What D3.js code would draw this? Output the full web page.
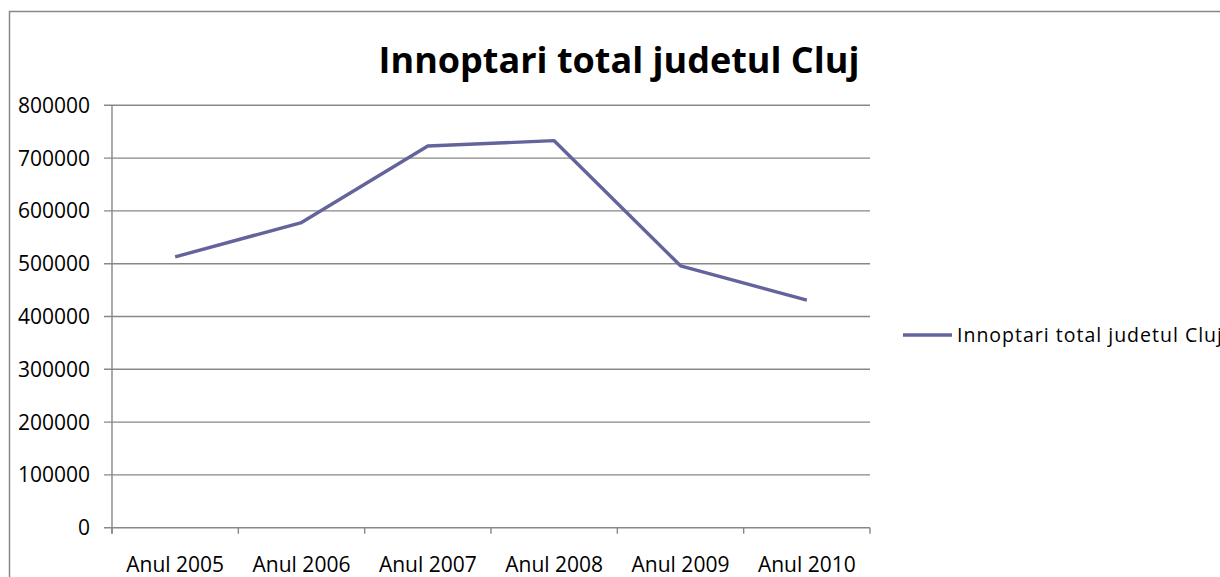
<!DOCTYPE html>
<html>
<head>
<meta charset="utf-8">
<script src="https://cdn.jsdelivr.net/npm/d3@7"></script>
<style>
  body { margin: 0; background: #fff; }
  svg { display: block; font-family: "Open Sans", sans-serif; }
</style>
</head>
<body>
<svg id="chart" width="1220" height="577"></svg>
<script>
// data
var categories = ["Anul 2005", "Anul 2006", "Anul 2007", "Anul 2008", "Anul 2009", "Anul 2010"];
var values = [513000, 578000, 723000, 733000, 496000, 431000];
var yTicks = [0, 100000, 200000, 300000, 400000, 500000, 600000, 700000, 800000];
var seriesName = "Innoptari total judetul Cluj";
var title = "Innoptari total judetul Cluj";

var svg = d3.select("#chart");
var gridColor = "#878787";
var lineColor = "#64639c";

// outer frame
svg.append("rect")
    .attr("x", 9.5).attr("y", 11.5)
    .attr("width", 1300).attr("height", 700)
    .attr("fill", "none")
    .attr("stroke", gridColor)
    .attr("stroke-width", 1.5);

var plotLeft = 112, plotRight = 870, plotTop = 105.3, plotBottom = 527.7;

var x = d3.scaleBand().domain(categories).range([plotLeft, plotRight]);
var y = d3.scaleLinear().domain([0, 800000]).range([plotBottom, plotTop]);

// gridlines
svg.append("g").selectAll("line")
    .data(yTicks)
    .enter()
    .append("line")
    .attr("x1", plotLeft - 8).attr("x2", plotRight)
    .attr("y1", function (d) { return y(d); })
    .attr("y2", function (d) { return y(d); })
    .attr("stroke", gridColor)
    .attr("stroke-width", 1.4);

// y axis line
svg.append("line")
    .attr("x1", plotLeft).attr("x2", plotLeft)
    .attr("y1", plotTop).attr("y2", plotBottom + 6)
    .attr("stroke", gridColor).attr("stroke-width", 1.4);

// x ticks
var xt = categories.map(function (c) { return x(c); }).concat([plotRight]);
svg.append("g").selectAll("line")
    .data(xt)
    .enter()
    .append("line")
    .attr("x1", function (d) { return d; })
    .attr("x2", function (d) { return d; })
    .attr("y1", plotBottom).attr("y2", plotBottom + 6)
    .attr("stroke", gridColor).attr("stroke-width", 1.4);

// y labels
svg.append("g").selectAll("text")
    .data(yTicks)
    .enter()
    .append("text")
    .attr("x", 90)
    .attr("y", function (d) { return y(d); })
    .attr("dy", "0.36em")
    .attr("text-anchor", "end")
    .attr("font-size", 21)
    .attr("fill", "#000")
    .text(function (d) { return d; });

// x labels
svg.append("g").selectAll("text")
    .data(categories)
    .enter()
    .append("text")
    .attr("x", function (d) { return x(d) + x.bandwidth() / 2; })
    .attr("y", 572)
    .attr("text-anchor", "middle")
    .attr("font-size", 21)
    .attr("fill", "#000")
    .text(function (d) { return d; });

// series
var line = d3.line()
    .x(function (d, i) { return x(categories[i]) + x.bandwidth() / 2; })
    .y(function (d) { return y(d); });

svg.append("path")
    .datum(values)
    .attr("d", line)
    .attr("fill", "none")
    .attr("stroke", lineColor)
    .attr("stroke-width", 3.4)
    .attr("stroke-linejoin", "round");

// title
svg.append("text")
    .attr("x", 619).attr("y", 73)
    .attr("text-anchor", "middle")
    .attr("font-size", 36)
    .attr("font-weight", "bold")
    .attr("fill", "#000")
    .text(title);

// legend
svg.append("line")
    .attr("x1", 903).attr("x2", 952)
    .attr("y1", 335).attr("y2", 335)
    .attr("stroke", lineColor).attr("stroke-width", 3.4);
svg.append("text")
    .attr("x", 957).attr("y", 342)
    .attr("font-size", 19.5)
    .attr("letter-spacing", 1.0)
    .attr("fill", "#000")
    .text(seriesName);
</script>
</body>
</html>
